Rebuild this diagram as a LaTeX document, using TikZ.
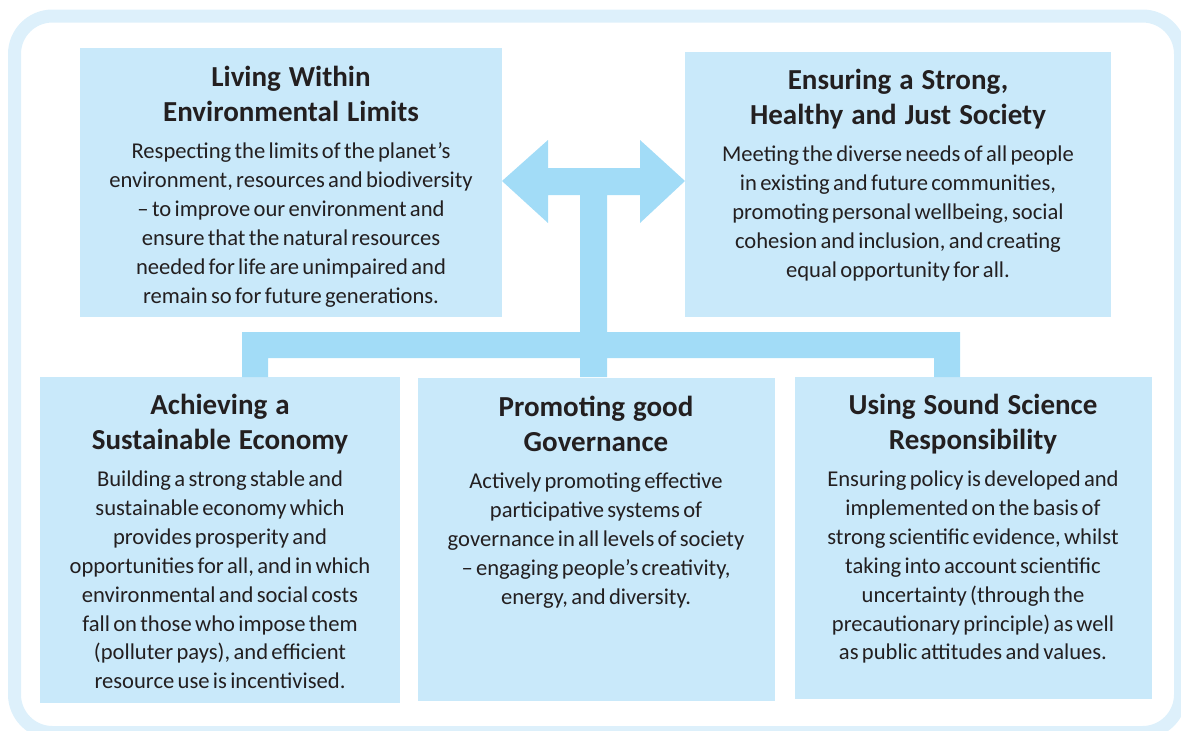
\documentclass[tikz,border=0pt]{standalone}
\usepackage{fontspec}
\setmainfont{Carlito}
\definecolor{framecol}{HTML}{DDF0FB}
\definecolor{boxcol}{HTML}{C9E9FA}
\definecolor{arrowcol}{HTML}{A2DCF7}
\definecolor{inkcol}{HTML}{231F20}
\newcommand\boxtitle[1]{{\bfseries\fontsize{29pt}{35pt}\selectfont\spaceskip=8pt\relax #1\par}\vspace{8.3pt}}
\newcommand\boxbody[1]{{\fontsize{22.6pt}{28.9pt}\selectfont #1\par}}
\tikzset{
  panel/.style={fill=boxcol, draw=none, inner sep=0pt, outer sep=0pt, anchor=north west},
  paneltext/.style={text=inkcol, inner sep=0pt, outer sep=0pt, anchor=north, text width=430pt, align=center},
  connector/.style={fill=arrowcol, draw=none}
}
\begin{document}
\begin{tikzpicture}[x=1pt,y=-1pt]
\useasboundingbox (0,0) rectangle (1181,731);
\draw[line width=13pt, framecol, rounded corners=38pt] (14.5,16) rectangle (1180.5,732.5);

\node[panel, minimum width=422pt, minimum height=269pt] (b1) at (80,48) {};
\node[panel, minimum width=426pt, minimum height=265pt] (b2) at (685,52) {};
\node[panel, minimum width=360pt, minimum height=326pt] (b3) at (40,377) {};
\node[panel, minimum width=357pt, minimum height=323pt] (b4) at (418,378) {};
\node[panel, minimum width=357pt, minimum height=322pt] (b5) at (795,377) {};

\fill[connector] (b1.east |- 0,181) -- (548,140) -- (548,168) -- (640,168) -- (640,140)
  -- (b2.west |- 0,181) -- (640,223) -- (640,195) -- (607,195) -- (607,332) -- (960,332)
  -- (960,0 |- b5.north) -- (934,0 |- b5.north) -- (934,358) -- (607,358)
  -- (607,0 |- b3.north) -- (580,0 |- b3.north) -- (580,358) -- (268,358)
  -- (268,0 |- b3.north) -- (242,0 |- b3.north) -- (242,332) -- (580,332) -- (580,195)
  -- (548,195) -- (548,223) -- cycle;

\node[paneltext] (t1) at (291,66) {\boxtitle{Living Within\\Environmental Limits}\boxbody{Respecting the limits of the planet’s\\environment, resources and biodiversity\\– to improve our environment and\\ensure that the natural resources\\needed for life are unimpaired and\\remain so for future generations.}};
\node[paneltext] (t2) at (898,69) {\boxtitle{Ensuring a Strong,\\Healthy and Just Society}\boxbody{Meeting the diverse needs of all people\\in existing and future communities,\\promoting personal wellbeing, social\\cohesion and inclusion, and creating\\equal opportunity for all.}};
\node[paneltext] (t3) at (220,394) {\boxtitle{Achieving a\\Sustainable Economy}\boxbody{Building a strong stable and\\sustainable economy which\\provides prosperity and\\opportunities for all, and in which\\environmental and social costs\\fall on those who impose them\\(polluter pays), and efficient\\resource use is incentivised.}};
\node[paneltext] (t4) at (596,396) {\boxtitle{Promoting good\\Governance}\boxbody{Actively promoting effective\\participative systems of\\governance in all levels of society\\– engaging people’s creativity,\\energy, and diversity.}};
\node[paneltext] (t5) at (973,394) {\boxtitle{Using Sound Science\\Responsibility}\boxbody{Ensuring policy is developed and\\implemented on the basis of\\strong scientific evidence, whilst\\taking into account scientific\\uncertainty (through the\\precautionary principle) as well\\as public attitudes and values.}};
\end{tikzpicture}
\end{document}
